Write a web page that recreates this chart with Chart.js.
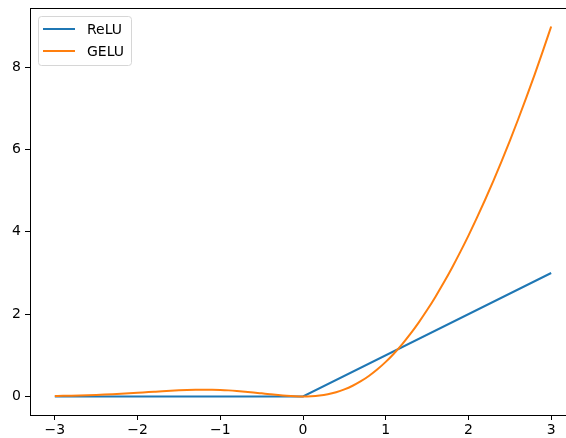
<!DOCTYPE html>
<html><head><meta charset="utf-8">
<script src="https://cdn.jsdelivr.net/npm/chart.js@4"></script>
<style>html,body{margin:0;padding:0;overflow:hidden;background:#fff}canvas{display:block}</style>
</head><body>
<canvas id="c" width="600" height="438" style="width:600px;height:438px"></canvas>
<script>
const xValues = [-3.0,-2.9,-2.8,-2.7,-2.6,-2.5,-2.4,-2.3,-2.2,-2.1,-2.0,-1.9,-1.8,-1.7,-1.6,-1.5,-1.4,-1.3,-1.2,-1.1,-1.0,-0.9,-0.8,-0.7,-0.6,-0.5,-0.4,-0.3,-0.2,-0.1,0.0,0.1,0.2,0.3,0.4,0.5,0.6,0.7,0.8,0.9,1.0,1.1,1.2,1.3,1.4,1.5,1.6,1.7,1.8,1.9,2.0,2.1,2.2,2.3,2.4,2.5,2.6,2.7,2.8,2.9,3.0];
const geluValues = [0.0122,0.0157,0.0201,0.0253,0.0315,0.0388,0.0472,0.0567,0.0673,0.0788,0.0910,0.1037,0.1164,0.1288,0.1403,0.1503,0.1583,0.1636,0.1657,0.1642,0.1587,0.1491,0.1356,0.1186,0.0987,0.0771,0.0551,0.0344,0.0168,0.0046,0.0,0.0054,0.0232,0.0556,0.1049,0.1729,0.2613,0.3714,0.5044,0.6609,0.8413,1.0458,1.2743,1.5264,1.8017,2.0997,2.4197,2.7612,3.1236,3.5063,3.9090,4.3312,4.7727,5.2333,5.7128,6.2112,6.7285,7.2647,7.8199,8.3943,8.9879];
const reluX = [-3, 0, 3];
const reluValues = [0, 0, 3];
const seriesNames = ['ReLU', 'GELU'];
const seriesColors = ['#1f77b4', '#ff7f0e'];
const xTicks = [-3, -2, -1, 0, 1, 2, 3];
const yTicks = [0, 2, 4, 6, 8];

const FONT = {family: 'DejaVu Sans', size: 14};
const fmt = v => v < 0 ? '\u2212' + Math.abs(v) : String(v);

const spinePlugin = {
  id: 'spine',
  afterDatasetsDraw(chart) {
    const {ctx, chartArea: a} = chart;
    ctx.save();
    ctx.strokeStyle = '#000';
    ctx.lineWidth = 1;
    ctx.beginPath();
    ctx.moveTo(a.left, Math.round(a.top) + 0.5);
    ctx.lineTo(a.right, Math.round(a.top) + 0.5);
    ctx.stroke();
    ctx.restore();
  }
};

const legendPlugin = {
  id: 'mplLegend',
  afterDraw(chart) {
    const ctx = chart.ctx;
    ctx.save();
    ctx.beginPath();
    ctx.roundRect(38.5, 16.5, 93, 49, 3);
    ctx.fillStyle = 'rgba(255,255,255,0.8)';
    ctx.fill();
    ctx.strokeStyle = '#d6d6d6';
    ctx.lineWidth = 1;
    ctx.stroke();
    ctx.font = '14px "DejaVu Sans"';
    ctx.textBaseline = 'middle';
    seriesNames.forEach((name, i) => {
      const y = 29 + i * 22;
      ctx.strokeStyle = seriesColors[i];
      ctx.lineWidth = 2;
      ctx.beginPath();
      ctx.moveTo(43, y);
      ctx.lineTo(75, y);
      ctx.stroke();
      ctx.fillStyle = '#000';
      ctx.fillText(name, 87, y + 1);
    });
    ctx.restore();
  }
};

new Chart(document.getElementById('c'), {
  type: 'line',
  data: {
    datasets: [
      {label: seriesNames[0], data: reluX.map((x, i) => ({x, y: reluValues[i]})), borderColor: seriesColors[0], borderWidth: 2, pointRadius: 0, tension: 0, order: 1},
      {label: seriesNames[1], data: xValues.map((x, i) => ({x, y: geluValues[i]})), borderColor: seriesColors[1], borderWidth: 2, pointRadius: 0, cubicInterpolationMode: 'monotone', order: 0}
    ]
  },
  options: {
    responsive: false,
    devicePixelRatio: 1,
    animation: false,
    layout: {padding: {top: 8, right: 24, left: 0, bottom: 0}},
    plugins: {legend: {display: false}, tooltip: {enabled: false}},
    scales: {
      x: {
        type: 'linear', min: -3.3, max: 3.3,
        afterBuildTicks: s => { s.ticks = xTicks.map(v => ({value: v})); },
        afterFit: s => { s.height = 23; s.paddingLeft = 0; s.paddingRight = 0; },
        ticks: {callback: fmt, font: FONT, color: '#000', padding: 2, maxRotation: 0, autoSkip: false},
        grid: {drawOnChartArea: false, tickLength: 5, tickColor: '#000', tickWidth: 1},
        border: {color: '#000', width: 1}
      },
      y: {
        type: 'linear', min: -0.449, max: 9.437,
        afterBuildTicks: s => { s.ticks = yTicks.map(v => ({value: v})); },
        afterFit: s => { s.width = 30; s.paddingTop = 0; s.paddingBottom = 0; },
        ticks: {callback: fmt, font: FONT, color: '#000', padding: 4, autoSkip: false},
        grid: {drawOnChartArea: false, tickLength: 5, tickColor: '#000', tickWidth: 1},
        border: {color: '#000', width: 1}
      }
    }
  },
  plugins: [spinePlugin, legendPlugin]
});
</script>
</body></html>
